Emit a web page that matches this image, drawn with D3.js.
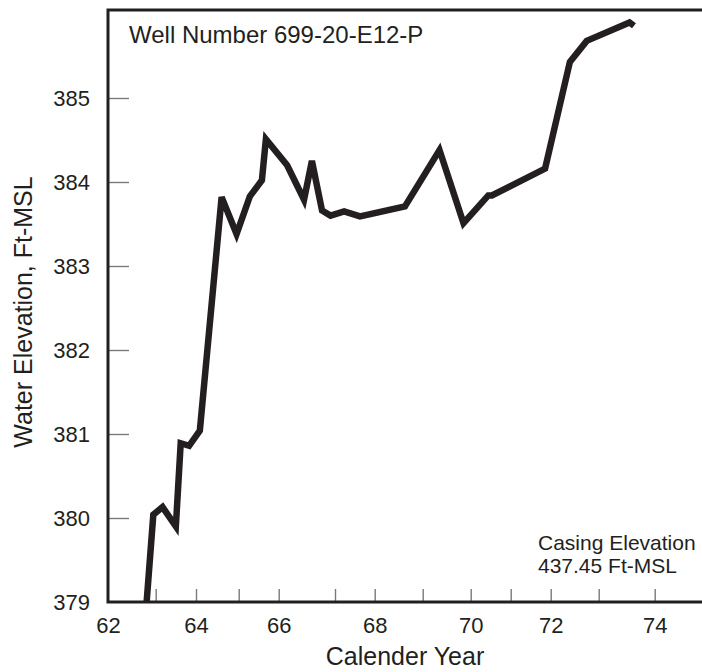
<!DOCTYPE html>
<html>
<head>
<meta charset="utf-8">
<script src="https://cdn.jsdelivr.net/npm/d3@7"></script>
<style>
  body { margin: 0; background: #fff; }
  text { font-family: "Liberation Sans", Arial, Helvetica, sans-serif; fill: #231f20; }
</style>
</head>
<body>
<div id="chart"></div>
<script>
// water level readings
var years = [62.81, 62.95, 63.17, 63.50, 63.62, 63.83, 64.09, 64.60, 64.95, 65.28,
             65.58, 65.68, 66.15, 66.45, 66.59, 66.77, 66.92, 67.23, 67.63, 68.63,
             69.35, 69.85, 70.44, 70.53, 71.86, 72.40, 72.75, 73.55, 73.63];
var elevations = [379.00, 380.04, 380.13, 379.90, 380.89, 380.86, 381.04, 383.82, 383.38, 383.83,
                  384.02, 384.51, 384.20, 383.79, 384.25, 383.66, 383.60, 383.65, 383.59, 383.71,
                  384.38, 383.51, 383.84, 383.84, 384.16, 385.43, 385.68, 385.90, 385.86];

var xTickYears = [63, 64, 65, 66, 67, 68, 69, 70, 71, 72, 73, 74];
var xLabelYears = [62, 64, 66, 68, 70, 72, 74];
var yTickValues = [380, 381, 382, 383, 384, 385];
var yLabelValues = [379, 380, 381, 382, 383, 384, 385];

var wellName = "Well Number 699-20-E12-P";
var casingNote = ["Casing Elevation", "437.45 Ft-MSL"];

function chart(selector){

    var width = 702, height = 672,
    margin = {top: 10, left: 108, right: 0, bottom: 70},
    x0 = margin.left, x1 = width - margin.right,
    y0 = height - margin.bottom, y1 = margin.top;

    d3.select(selector).html(null)

    var svg = d3.select(selector)
        .append("svg")
        .attr("width", width)
        .attr("height", height)

    // the year axis on the original is hand drafted, so spacing differs a bit year to year
    var xBreaks = [62, 63, 64, 65, 66, 67, 68, 69, 70, 71, 72, 73, 74, 75]
    var xPixels = [0, 47.7, 88, 130.7, 170.7, 227, 266.7, 314.7, 362.7, 402.7, 442.7, 490.7, 546.7, 600]

    var x = d3.scaleLinear()
        .domain(xBreaks)
        .range(xPixels.map(function(p){ return x0 + p; }))

    var y = d3.scaleLinear()
        .domain([379, 385])
        .range([y0, 98])

    // tick marks (inside, grey)
    svg.append("g")
        .attr("transform", "translate(0," + y0 + ")")
        .call(d3.axisBottom(x).tickValues(xTickYears).tickSize(-13).tickFormat(""))
        .call(function(g){
            g.select(".domain").remove()
            g.selectAll("line").attr("stroke", "#7a7a7a").attr("stroke-width", 1.4)
        })

    svg.append("g")
        .attr("transform", "translate(" + x0 + ",0)")
        .call(d3.axisRight(y).tickValues(yTickValues).tickSize(21).tickFormat(""))
        .call(function(g){
            g.select(".domain").remove()
            g.selectAll("line").attr("stroke", "#7a7a7a").attr("stroke-width", 1.4)
        })

    // tick labels
    svg.append("g")
        .attr("transform", "translate(0," + y0 + ")")
        .call(d3.axisBottom(x).tickValues(xLabelYears).tickSize(0).tickPadding(15).tickFormat(d3.format("d")))
        .call(function(g){
            g.select(".domain").remove()
            g.selectAll("text").attr("font-size", 22).attr("fill", "#231f20")
                .attr("font-family", "Liberation Sans, Arial, sans-serif")
        })

    svg.append("g")
        .attr("transform", "translate(" + (x0 - 18) + ",0)")
        .call(d3.axisLeft(y).tickValues(yLabelValues).tickSize(0).tickPadding(0).tickFormat(d3.format("d")))
        .call(function(g){
            g.select(".domain").remove()
            g.selectAll("text").attr("font-size", 22).attr("fill", "#231f20")
                .attr("font-family", "Liberation Sans, Arial, sans-serif")
        })

    // frame: left, top, bottom
    svg.append("path")
        .attr("d", "M" + x1 + "," + y1 + "H" + x0 + "V" + y0 + "H" + x1)
        .attr("fill", "none")
        .attr("stroke", "#231f20")
        .attr("stroke-width", 3)

    var line = d3.line()
        .x(function(d){ return x(d[0]); })
        .y(function(d){ return y(d[1]); })

    svg.append("path")
        .datum(d3.zip(years, elevations))
        .attr("d", line)
        .attr("fill", "none")
        .attr("stroke", "#231f20")
        .attr("stroke-width", 6.5)
        .attr("stroke-linejoin", "miter")

    svg.append("text")
        .attr("x", 129)
        .attr("y", 43)
        .attr("font-size", 24)
        .text(wellName)

    svg.selectAll(".note")
        .data(casingNote).enter().append("text")
        .attr("class", "note")
        .attr("x", 538)
        .attr("y", function(d, i){ return 550 + i * 23; })
        .attr("font-size", 21)
        .text(function(d){ return d; })

    svg.append("text")
        .attr("x", (x0 + x1) / 2)
        .attr("y", 665)
        .attr("text-anchor", "middle")
        .attr("font-size", 25)
        .text("Calender Year")

    svg.append("text")
        .attr("transform", "translate(32," + ((y0 + y1) / 2 + 6) + ") rotate(-90)")
        .attr("text-anchor", "middle")
        .attr("font-size", 25)
        .text("Water Elevation, Ft-MSL")
}

chart("#chart")
</script>
</body>
</html>
